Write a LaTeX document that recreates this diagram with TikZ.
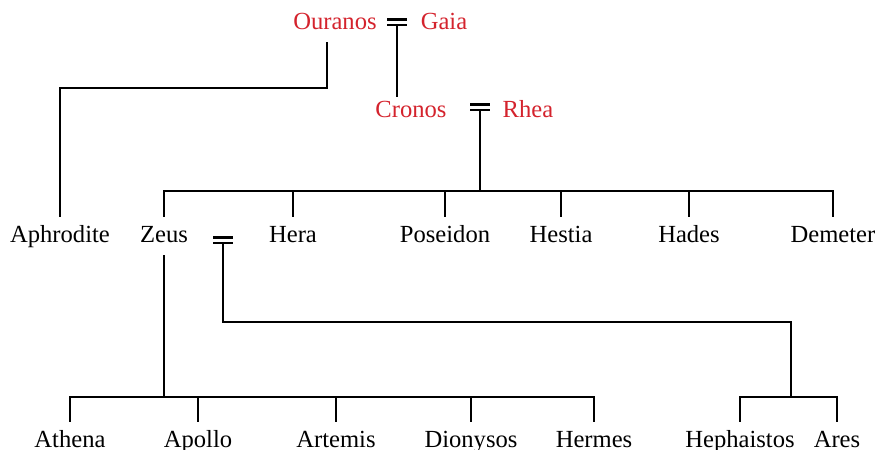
\documentclass[tikz,border=0pt]{standalone}
\usepackage{fontspec}
\setmainfont{Liberation Serif}
\usetikzlibrary{calc}

\definecolor{titanred}{RGB}{212,35,45}

% marriage sign: two bars, lower bar centre is the named coordinate
\newcommand{\wed}[3]{%
  \coordinate (#1) at (#2,#3);
  \draw[bar] ($(#1)+(-10,0)$) -- ++(20,0);
  \draw[bar] ($(#1)+(-10,-5.5)$) -- ++(20,0);
}

\begin{document}
\begin{tikzpicture}[x=0.02cm, y=-0.02cm, line width=0.9pt,
    god/.style={anchor=base, inner xsep=2pt, inner ysep=4.5pt,
      text height=9.5pt, text depth=2.5pt, font=\fontsize{14}{16}\selectfont},
    titan/.style={god, text=titanred},
    bar/.style={line width=1.5pt}]

    \useasboundingbox (0,0) rectangle (877,450);

    % First the titans at the top
    \node[titan] (ouranos) at (335,29) {Ouranos};
    \node[titan] (gaia) at (444,29) {Gaia};
    \node[titan] (cronos) at (411,117) {Cronos};
    \node[titan] (rhea) at (528,117) {Rhea};
    \wed{w1}{397}{25}
    \wed{w2}{480}{110}

    % Next, the Olympians
    \foreach \name/\x/\txt in {aphrodite/60/Aphrodite, zeus/164/Zeus,
        hera/293/Hera, poseidon/445/Poseidon, hestia/561/Hestia,
        hades/689/Hades, demeter/833/Demeter}
      \node[god] (\name) at (\x,242) {\txt};
    \wed{w3}{223}{243}

    % And the children of Zeus
    \foreach \name/\x/\txt in {athena/70/Athena, apollo/198/Apollo,
        artemis/336/Artemis, dionysos/471/Dionysos, hermes/594/Hermes,
        hephaistos/740/Hephaistos, ares/837/Ares}
      \node[god] (\name) at (\x,447) {\txt};

    % Define the branch points
    \coordinate (cb) at (480,191);
    \coordinate (zb) at (164,397);
    \coordinate (hb) at (791,397);

    % Ouranos to Aphrodite
    \draw ($(ouranos.south)+(-8,0)$) -- ++(0,46) -| (aphrodite.north);

    % Ouranos = Gaia to Cronos
    \draw (w1) -- ($(w1 |- cronos.north)+(0,-3pt)$);

    % Cronos = Rhea to their children
    \draw (w2) -- (cb);
    \foreach \n in {zeus, hera, poseidon, hestia, hades, demeter}
      \draw (cb) -| (\n.north);

    % Zeus to his children
    \draw (zeus.south) -- (zb);
    \foreach \n in {athena, apollo, artemis, dionysos, hermes}
      \draw (zb) -| (\n.north);

    % Zeus = Hera to their children
    \draw (w3) -- ++(0,79) -| (hb);
    \foreach \n in {hephaistos, ares}
      \draw (hb) -| (\n.north);
  \end{tikzpicture}
\end{document}
